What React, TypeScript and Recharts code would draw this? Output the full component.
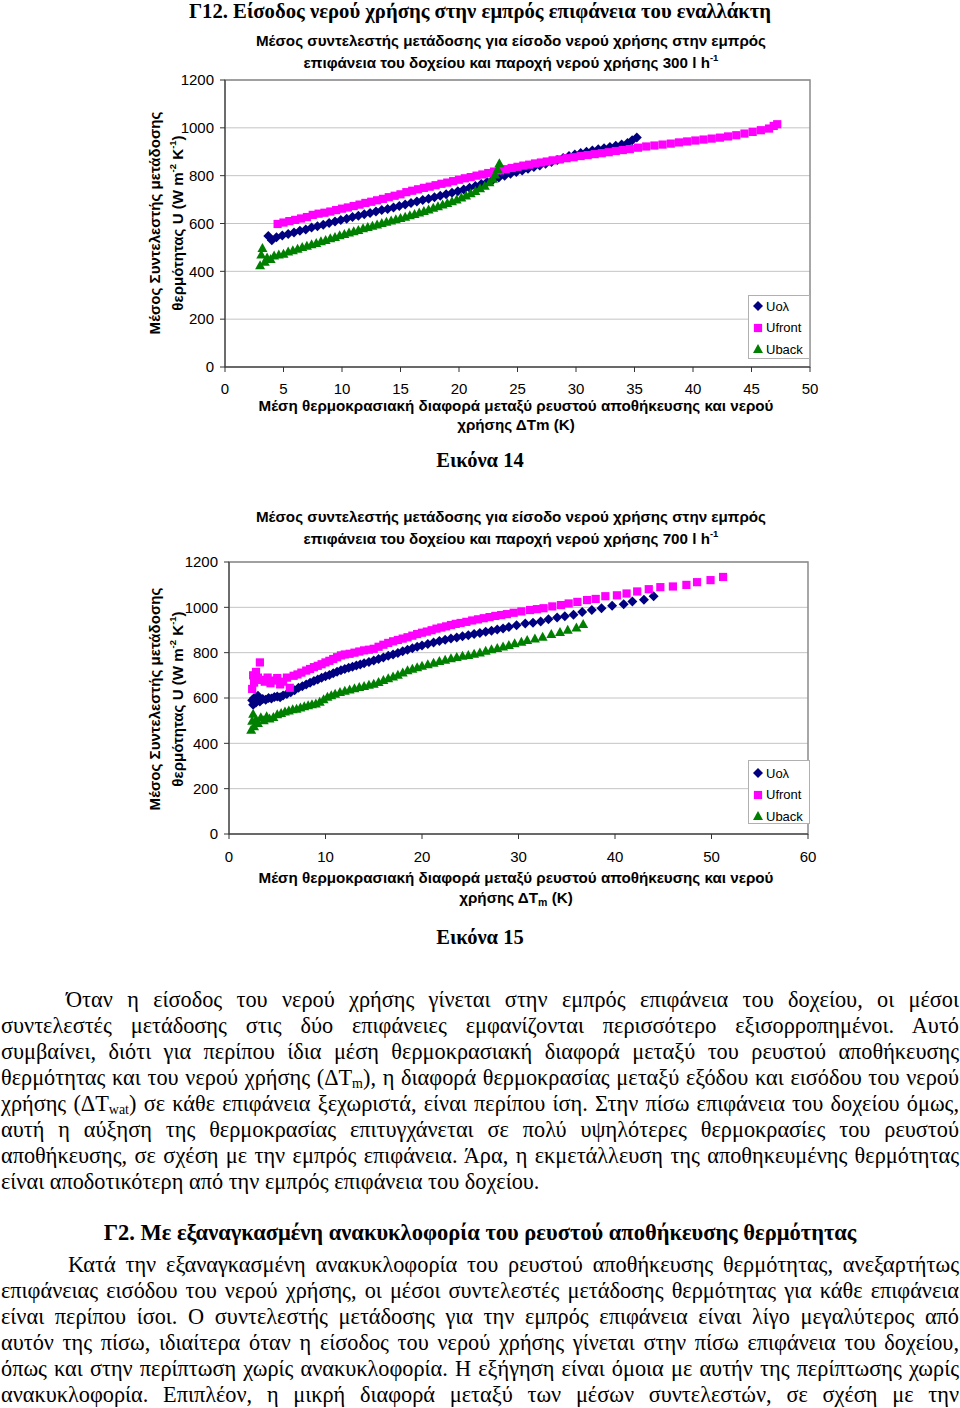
import React from "react";
import {
  ScatterChart,
  Scatter,
  XAxis,
  YAxis,
  CartesianGrid,
  ReferenceArea,
  Legend,
} from "recharts";

const SANS = '"Liberation Sans", Arial, sans-serif';
const SERIF = '"Liberation Serif", "Times New Roman", serif';

const xTicks300 = [0, 5, 10, 15, 20, 25, 30, 35, 40, 45, 50];
const xTicks700 = [0, 10, 20, 30, 40, 50, 60];
const yTicks = [0, 200, 400, 600, 800, 1000, 1200];

const seriesNames = ["Uoλ", "Ufront", "Uback"];
const seriesColors = ["#000080", "#FF00FF", "#008000"];

// Εικόνα 14 (300 l/h): [ΔTm, U]
const uol300: [number, number][] = [
  [3.7, 548], [4.0, 530], [4.4, 542], [4.9, 550], [5.4, 556], [5.9, 562], [6.4, 570], [6.9, 575],
  [7.4, 583], [7.9, 588], [8.4, 595], [8.9, 602], [9.4, 608], [9.9, 615], [10.4, 620], [10.9, 627],
  [11.4, 632], [11.9, 639], [12.4, 644], [12.9, 650], [13.4, 656], [13.9, 661], [14.4, 667], [14.9, 673],
  [15.4, 679], [15.9, 686], [16.4, 692], [16.9, 698], [17.4, 704], [17.9, 710], [18.4, 716], [18.9, 722],
  [19.4, 729], [19.9, 735], [20.4, 742], [20.9, 749], [21.4, 757], [21.9, 765], [22.4, 774], [22.9, 783],
  [23.4, 792], [23.9, 800], [24.4, 808], [24.9, 815], [25.4, 822], [25.9, 829], [26.4, 836], [26.9, 843],
  [27.4, 850], [27.9, 857], [28.4, 866], [28.9, 874], [29.4, 882], [29.9, 889], [30.4, 895], [30.9, 900],
  [31.4, 905], [31.9, 910], [32.4, 915], [32.9, 920], [33.4, 925], [33.9, 930], [34.4, 937], [34.8, 948],
  [35.2, 960],
];

const ufront300: [number, number][] = [
  [4.5, 598], [5.0, 604], [5.5, 610], [6.0, 615], [6.5, 621], [7.0, 627], [7.5, 636], [8.0, 641],
  [8.5, 645], [9.0, 650], [9.5, 656], [10.0, 662], [10.5, 667], [11.0, 673], [11.5, 679], [12.0, 686],
  [12.5, 691], [13.0, 697], [13.5, 703], [14.0, 710], [14.5, 716], [15.0, 722], [15.5, 731], [16.0, 737],
  [16.5, 743], [17.0, 749], [17.5, 754], [18.0, 760], [18.5, 766], [19.0, 771], [19.5, 777], [20.0, 783],
  [20.5, 789], [21.0, 794], [21.5, 800], [22.0, 805], [22.5, 811], [23.0, 817], [23.5, 822], [24.0, 827],
  [24.5, 832], [25.0, 837], [25.5, 842], [26.0, 846], [26.5, 851], [27.0, 855], [27.5, 859], [28.0, 864],
  [28.6, 868], [29.2, 873], [29.8, 877], [30.4, 882], [31.0, 886], [31.6, 890], [32.2, 894], [32.8, 898],
  [33.4, 903], [34.0, 907], [34.6, 911], [35.3, 917], [36.0, 922], [36.7, 926], [37.4, 930], [38.1, 934],
  [38.8, 939], [39.5, 943], [40.2, 947], [40.9, 951], [41.6, 955], [42.3, 959], [43.0, 964], [43.7, 969],
  [44.4, 976], [45.1, 983], [45.8, 990], [46.5, 997], [46.9, 1008], [47.2, 1015],
];

const uback300: [number, number][] = [
  [3.0, 425], [3.1, 470], [3.2, 498], [3.4, 440], [3.6, 458], [3.9, 452], [4.2, 466], [4.6, 470],
  [5.0, 474], [5.4, 483], [5.8, 488], [6.2, 494], [6.6, 502], [7.0, 507], [7.4, 513], [7.8, 518],
  [8.2, 526], [8.6, 531], [9.0, 538], [9.4, 544], [9.8, 551], [10.2, 556], [10.6, 562], [11.0, 568],
  [11.4, 573], [11.8, 580], [12.2, 585], [12.6, 591], [13.0, 596], [13.4, 602], [13.8, 607], [14.2, 613],
  [14.6, 618], [15.0, 623], [15.4, 628], [15.8, 634], [16.2, 640], [16.6, 646], [17.0, 652], [17.4, 659],
  [17.8, 666], [18.2, 672], [18.6, 679], [19.0, 686], [19.4, 693], [19.8, 700], [20.2, 709], [20.6, 717],
  [21.0, 726], [21.4, 736], [21.8, 747], [22.2, 758], [22.6, 772], [22.9, 787], [23.1, 805], [23.3, 828],
  [23.45, 852],
];

// Εικόνα 15 (700 l/h): [ΔTm, U]
const uol700: [number, number][] = [
  [2.4, 590], [2.5, 570], [2.6, 600], [2.8, 580], [3.0, 610], [3.2, 585], [3.5, 596], [3.8, 592],
  [4.1, 600], [4.4, 598], [4.7, 604], [5.0, 607], [5.3, 603], [5.6, 611], [6.0, 618], [6.4, 625],
  [6.8, 634], [7.2, 645], [7.6, 652], [8.0, 660], [8.4, 667], [8.8, 675], [9.2, 682], [9.6, 689],
  [10.0, 696], [10.4, 702], [10.8, 709], [11.2, 716], [11.6, 722], [12.0, 728], [12.4, 733], [12.8, 738],
  [13.2, 743], [13.6, 748], [14.0, 753], [14.5, 759], [15.0, 765], [15.5, 772], [16.0, 779], [16.5, 786],
  [17.0, 792], [17.5, 799], [18.0, 806], [18.5, 813], [19.0, 819], [19.5, 826], [20.0, 832], [20.6, 838],
  [21.2, 845], [21.8, 851], [22.4, 857], [23.0, 862], [23.6, 867], [24.2, 872], [24.8, 877], [25.4, 882],
  [26.0, 887], [26.6, 892], [27.2, 897], [27.8, 902], [28.4, 907], [29.0, 913], [29.8, 921], [30.7, 929],
  [31.5, 932], [32.3, 938], [33.1, 947], [34.0, 955], [34.8, 961], [35.7, 967], [36.6, 979], [37.6, 988],
  [38.6, 996], [39.7, 1007], [40.9, 1014], [41.8, 1026], [43.0, 1034], [44.0, 1049],
];

const ufront700: [number, number][] = [
  [2.4, 640], [2.5, 700], [2.6, 668], [2.8, 715], [3.0, 690], [3.2, 757], [3.4, 680], [3.7, 672],
  [4.0, 690], [4.3, 665], [4.6, 677], [5.0, 688], [5.3, 660], [5.6, 672], [6.0, 690], [6.3, 645],
  [6.7, 698], [7.1, 704], [7.5, 712], [8.0, 721], [8.4, 728], [8.8, 736], [9.2, 742], [9.6, 749],
  [10.0, 757], [10.4, 764], [10.8, 772], [11.2, 780], [11.6, 788], [12.0, 792], [12.5, 795], [13.0, 800],
  [13.5, 805], [14.0, 810], [14.5, 813], [15.0, 817], [15.5, 826], [16.0, 835], [16.5, 843], [17.0, 850],
  [17.5, 856], [18.0, 862], [18.5, 868], [19.0, 875], [19.5, 882], [20.0, 888], [20.5, 893], [21.0, 899],
  [21.5, 906], [22.0, 911], [22.5, 916], [23.0, 922], [23.5, 927], [24.0, 931], [24.6, 936], [25.2, 942],
  [25.8, 947], [26.4, 952], [27.0, 957], [27.6, 962], [28.2, 966], [28.8, 970], [29.5, 976], [30.3, 982],
  [31.2, 988], [31.9, 992], [32.6, 996], [33.5, 1004], [34.4, 1010], [35.2, 1017], [36.1, 1024], [37.1, 1032],
  [38.0, 1037], [39.0, 1049], [40.2, 1053], [41.2, 1061], [42.3, 1070], [43.5, 1080], [44.7, 1089], [46.0, 1092],
  [47.4, 1099], [48.5, 1111], [49.9, 1120], [51.2, 1134],
];

const uback700: [number, number][] = [
  [2.3, 460], [2.4, 500], [2.5, 530], [2.6, 475], [2.8, 505], [3.0, 490], [3.3, 515], [3.6, 502],
  [3.9, 520], [4.2, 510], [4.6, 516], [5.0, 528], [5.4, 534], [5.8, 540], [6.2, 545], [6.6, 550],
  [7.0, 553], [7.4, 558], [7.8, 564], [8.2, 568], [8.6, 572], [9.0, 576], [9.4, 584], [9.8, 595],
  [10.2, 605], [10.6, 612], [11.0, 619], [11.5, 626], [12.0, 632], [12.5, 637], [13.0, 643], [13.5, 648],
  [14.0, 653], [14.5, 658], [15.0, 663], [15.5, 671], [16.0, 679], [16.5, 687], [17.0, 695], [17.5, 703],
  [18.0, 712], [18.5, 722], [19.0, 729], [19.5, 736], [20.0, 742], [20.6, 749], [21.2, 756], [21.8, 763],
  [22.4, 769], [23.0, 775], [23.6, 781], [24.2, 786], [24.8, 790], [25.4, 795], [26.0, 801], [26.6, 808],
  [27.2, 815], [27.8, 821], [28.4, 827], [29.0, 834], [29.6, 841], [30.3, 848], [30.9, 856], [31.7, 863],
  [32.5, 870], [33.4, 882], [34.3, 891], [35.1, 901], [36.0, 911], [36.7, 927],
];

const toPoints = (pairs: [number, number][]) => pairs.map(([x, y]) => ({ x, y }));

function Diamond(props: any) {
  const { cx, cy, fill } = props;
  const r = 5;
  return (
    <polygon
      points={`${cx},${cy - r} ${cx + r},${cy} ${cx},${cy + r} ${cx - r},${cy}`}
      fill={fill}
    />
  );
}

function Square(props: any) {
  const { cx, cy, fill } = props;
  const r = 4.1;
  return <rect x={cx - r} y={cy - r} width={2 * r} height={2 * r} fill={fill} />;
}

function Triangle(props: any) {
  const { cx, cy, fill } = props;
  const r = 5;
  return (
    <polygon
      points={`${cx},${cy - r} ${cx + r},${cy + r * 0.8} ${cx - r},${cy + r * 0.8}`}
      fill={fill}
    />
  );
}

const shapes = [Diamond, Square, Triangle];

function LegendMarker({ i }: { i: number }) {
  const Shape = shapes[i];
  return (
    <svg width={10} height={10} style={{ marginRight: 3, flex: "none" }}>
      <Shape cx={5} cy={5} fill={seriesColors[i]} />
    </svg>
  );
}

function LegendBox({ rowTop }: { rowTop: number }) {
  return (
    <div
      style={{
        width: 60,
        height: 62,
        border: "1px solid #b0b0b0",
        background: "#fff",
        fontFamily: SANS,
        fontSize: 13,
        color: "#000",
        boxSizing: "content-box",
        position: "relative",
      }}
    >
      {seriesNames.map((name, i) => (
        <div
          key={name}
          style={{
            position: "absolute",
            left: 4,
            top: rowTop + i * 21.5 - 8,
            height: 16,
            display: "flex",
            alignItems: "center",
            whiteSpace: "nowrap",
          }}
        >
          <LegendMarker i={i} />
          {name}
        </div>
      ))}
    </div>
  );
}

type ChartProps = {
  top: number;
  height: number;
  margin: { top: number; right: number; bottom: number; left: number };
  xMax: number;
  xTicks: number[];
  series: [number, number][][];
  legendLeft: number;
  legendTop: number;
  legendRowTop: number;
  tickMargin: number;
};

function UChart(p: ChartProps) {
  const tickStyle = { fill: "#000", fontSize: 15, fontFamily: SANS };
  return (
    <div style={{ position: "absolute", left: 0, top: p.top }}>
      <ScatterChart width={960} height={p.height} margin={p.margin}>
        <CartesianGrid horizontal vertical={false} stroke="#c4c4c4" />
        <ReferenceArea
          x1={0}
          x2={p.xMax}
          y1={0}
          y2={1200}
          fill="none"
          stroke="#8a8a8a"
          strokeWidth={1.5}
        />
        <XAxis
          type="number"
          dataKey="x"
          domain={[0, p.xMax]}
          ticks={p.xTicks}
          interval={0}
          height={30}
          tickSize={5}
          tickMargin={p.tickMargin}
          stroke="#333"
          tick={tickStyle}
          allowDataOverflow
        />
        <YAxis
          type="number"
          dataKey="y"
          domain={[0, 1200]}
          ticks={yTicks}
          interval={0}
          width={60}
          tickSize={5}
          tickMargin={6}
          stroke="#333"
          tick={tickStyle}
          allowDataOverflow
        />
        {p.series.map((s, i) => (
          <Scatter
            key={seriesNames[i]}
            name={seriesNames[i]}
            data={toPoints(s)}
            fill={seriesColors[i]}
            shape={shapes[i]}
            isAnimationActive={false}
          />
        ))}
        <Legend
          layout="vertical"
          align="center"
          verticalAlign="middle"
          wrapperStyle={{ left: p.legendLeft, top: p.legendTop, width: 62, height: 64 }}
          content={() => <LegendBox rowTop={p.legendRowTop} />}
        />
      </ScatterChart>
    </div>
  );
}

const abs = (style: React.CSSProperties): React.CSSProperties => ({
  position: "absolute",
  margin: 0,
  ...style,
});

const supStyle: React.CSSProperties = { fontSize: 9.5, verticalAlign: "7px", lineHeight: 0 };

function ChartTitle({ top, flow }: { top: number; flow: string }) {
  return (
    <div
      style={abs({
        left: 181,
        top,
        width: 660,
        textAlign: "center",
        fontFamily: SANS,
        fontWeight: "bold",
        fontSize: 15.2,
        lineHeight: "22px",
      })}
    >
      <div>Μέσος συντελεστής μετάδοσης για είσοδο νερού χρήσης στην εμπρός</div>
      <div>
        επιφάνεια του δοχείου και παροχή νερού χρήσης {flow} l h
        <sup style={supStyle}>-1</sup>
      </div>
    </div>
  );
}

function YLabel({ cy }: { cy: number }) {
  return (
    <div
      style={abs({
        left: 166 - 160,
        top: cy - 23,
        width: 320,
        height: 46,
        transform: "rotate(-90deg)",
        textAlign: "center",
        fontFamily: SANS,
        fontWeight: "bold",
        fontSize: 15.1,
        lineHeight: "23px",
      })}
    >
      <div>Μέσος Συντελεστής μετάδοσης</div>
      <div>
        θερμότητας U (W m<sup style={supStyle}>-2</sup> K<sup style={supStyle}>-1</sup>)
      </div>
    </div>
  );
}

function XLabel({ top, lh, sub }: { top: number; lh: number; sub: boolean }) {
  return (
    <div
      style={abs({
        left: 186,
        top,
        width: 660,
        textAlign: "center",
        fontFamily: SANS,
        fontWeight: "bold",
        fontSize: 15.2,
        lineHeight: `${lh}px`,
      })}
    >
      <div>Μέση θερμοκρασιακή διαφορά μεταξύ ρευστού αποθήκευσης και νερού</div>
      <div>
        χρήσης ΔT
        {sub ? (
          <sub style={{ fontSize: 10.5, verticalAlign: "-3px", lineHeight: 0 }}>m</sub>
        ) : (
          "m"
        )}{" "}
        (K)
      </div>
    </div>
  );
}

function Caption({ top, text }: { top: number; text: string }) {
  return (
    <div
      style={abs({
        left: 0,
        top,
        width: 960,
        textAlign: "center",
        fontFamily: SERIF,
        fontWeight: "bold",
        fontSize: 20.5,
        lineHeight: "24px",
      })}
    >
      {text}
    </div>
  );
}

const subStyle: React.CSSProperties = { fontSize: 14, verticalAlign: "-3px", lineHeight: 0 };

const para1: React.ReactNode[] = [
  "Όταν η είσοδος του νερού χρήσης γίνεται στην εμπρός επιφάνεια του δοχείου, οι μέσοι",
  "συντελεστές μετάδοσης στις δύο επιφάνειες εμφανίζονται περισσότερο εξισορροπημένοι. Αυτό",
  "συμβαίνει, διότι για περίπου ίδια μέση θερμοκρασιακή διαφορά μεταξύ του ρευστού αποθήκευσης",
  <>
    θερμότητας και του νερού χρήσης (ΔT<sub style={subStyle}>m</sub>), η διαφορά θερμοκρασίας
    μεταξύ εξόδου και εισόδου του νερού
  </>,
  <>
    χρήσης (ΔT<sub style={subStyle}>wat</sub>) σε κάθε επιφάνεια ξεχωριστά, είναι περίπου ίση.
    Στην πίσω επιφάνεια του δοχείου όμως,
  </>,
  "αυτή η αύξηση της θερμοκρασίας επιτυγχάνεται σε πολύ υψηλότερες θερμοκρασίες του ρευστού",
  "αποθήκευσης, σε σχέση με την εμπρός επιφάνεια. Άρα, η εκμετάλλευση της αποθηκευμένης θερμότητας",
  "είναι αποδοτικότερη από την εμπρός επιφάνεια του δοχείου.",
];

const para2: React.ReactNode[] = [
  "Κατά την εξαναγκασμένη ανακυκλοφορία του ρευστού αποθήκευσης θερμότητας, ανεξαρτήτως",
  "επιφάνειας εισόδου του νερού χρήσης, οι μέσοι συντελεστές μετάδοσης θερμότητας για κάθε επιφάνεια",
  "είναι περίπου ίσοι. Ο συντελεστής μετάδοσης για την εμπρός επιφάνεια είναι λίγο μεγαλύτερος από",
  "αυτόν της πίσω, ιδιαίτερα όταν η είσοδος του νερού χρήσης γίνεται στην πίσω επιφάνεια του δοχείου,",
  "όπως και στην περίπτωση χωρίς ανακυκλοφορία. Η εξήγηση είναι όμοια με αυτήν της περίπτωσης χωρίς",
  "ανακυκλοφορία. Επιπλέον, η μικρή διαφορά μεταξύ των μέσων συντελεστών, σε σχέση με την",
];

function Paragraph({
  top,
  lines,
  indent,
  lastLeft,
}: {
  top: number;
  lines: React.ReactNode[];
  indent: number;
  lastLeft: boolean;
}) {
  return (
    <>
      {lines.map((line, i) => (
        <div
          key={i}
          style={abs({
            left: 1,
            top: top + i * 26,
            width: 958,
            height: 26,
            paddingLeft: i === 0 ? indent : 0,
            boxSizing: "border-box",
            fontFamily: SERIF,
            fontSize: 22.3,
            lineHeight: "26px",
            whiteSpace: "nowrap",
            textAlign: "justify",
            textAlignLast: lastLeft && i === lines.length - 1 ? "left" : "justify",
            color: "#000",
          })}
        >
          {line}
        </div>
      ))}
    </>
  );
}

export default function App() {
  return (
    <>
      <style>{"body{margin:0;background:#fff;}"}</style>
      <div style={{ position: "relative", width: 960, height: 1408, overflow: "hidden", background: "#fff" }}>
        <div
          style={abs({
            left: 0,
            top: -1,
            width: 960,
            textAlign: "center",
            fontFamily: SERIF,
            fontWeight: "bold",
            fontSize: 20.7,
            lineHeight: "24px",
          })}
        >
          Γ12. Είσοδος νερού χρήσης στην εμπρός επιφάνεια του εναλλάκτη
        </div>

        <UChart
          top={0}
          height={440}
          margin={{ top: 80, right: 150, bottom: 43, left: 165 }}
          xMax={50}
          xTicks={xTicks300}
          series={[uol300, ufront300, uback300]}
          legendLeft={748}
          legendTop={295}
          legendRowTop={10}
          tickMargin={11}
        />
        <ChartTitle top={30} flow="300" />
        <YLabel cy={223} />
        <XLabel top={396} lh={19} sub={false} />
        <Caption top={448} text="Εικόνα 14" />

        <UChart
          top={480}
          height={400}
          margin={{ top: 82, right: 152, bottom: 16, left: 169 }}
          xMax={60}
          xTicks={xTicks700}
          series={[uol700, ufront700, uback700]}
          legendLeft={748}
          legendTop={280}
          legendRowTop={12}
          tickMargin={12}
        />
        <ChartTitle top={506} flow="700" />
        <YLabel cy={699} />
        <XLabel top={868} lh={20} sub />
        <Caption top={925} text="Εικόνα 15" />

        <Paragraph top={987} lines={para1} indent={65} lastLeft />
        <div
          style={abs({
            left: 0,
            top: 1220,
            width: 960,
            textAlign: "center",
            fontFamily: SERIF,
            fontWeight: "bold",
            fontSize: 22.5,
            lineHeight: "26px",
          })}
        >
          Γ2. Με εξαναγκασμένη ανακυκλοφορία του ρευστού αποθήκευσης θερμότητας
        </div>
        <Paragraph top={1252} lines={para2} indent={67} lastLeft={false} />
      </div>
    </>
  );
}
